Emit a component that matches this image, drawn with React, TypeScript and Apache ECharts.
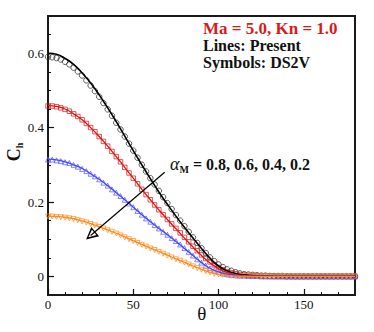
import React, { useEffect, useRef } from "react";
import * as echarts from "echarts";

// Angle grids (degrees)
const thetaLine = [0, 5, 10, 15, 20, 25, 30, 35, 40, 45, 50, 55, 60, 65, 70, 75, 80, 85, 90, 95, 100, 105, 110, 115, 120, 125, 130, 135, 140, 145, 150, 155, 160, 165, 170, 175, 180];
const thetaSym = [0, 2.5, 5, 7.5, 10, 12.5, 15, 17.5, 20, 22.5, 25, 27.5, 30, 32.5, 35, 37.5, 40, 42.5, 45, 47.5, 50, 52.5, 55, 57.5, 60, 62.5, 65, 67.5, 70, 72.5, 75, 77.5, 80, 82.5, 85, 87.5, 90, 92.5, 95, 97.5, 100, 102.5, 105, 107.5, 110, 112.5, 115, 117.5, 120, 122.5, 125, 127.5, 130, 132.5, 135, 137.5, 140, 142.5, 145, 147.5, 150, 152.5, 155, 157.5, 160, 162.5, 165, 167.5, 170, 172.5, 175, 177.5, 180];

// Lines: Present (alpha_M = 0.8, 0.6, 0.4, 0.2)
const line08 = [0.600, 0.597, 0.586, 0.570, 0.547, 0.520, 0.488, 0.453, 0.416, 0.377, 0.338, 0.300, 0.263, 0.227, 0.194, 0.162, 0.132, 0.103, 0.075, 0.049, 0.028, 0.015, 0.008, 0.004, 0.002, 0.001, 0.001, 0, 0, 0, 0, 0, 0, 0, 0, 0, 0];
const line06 = [0.460, 0.457, 0.450, 0.437, 0.421, 0.400, 0.376, 0.350, 0.322, 0.293, 0.264, 0.234, 0.206, 0.179, 0.153, 0.128, 0.103, 0.079, 0.056, 0.036, 0.021, 0.011, 0.005, 0.002, 0.001, 0, 0, 0, 0, 0, 0, 0, 0, 0, 0, 0, 0];
const line04 = [0.315, 0.313, 0.308, 0.300, 0.290, 0.276, 0.261, 0.244, 0.225, 0.206, 0.186, 0.166, 0.147, 0.129, 0.112, 0.094, 0.075, 0.056, 0.037, 0.022, 0.012, 0.006, 0.003, 0.001, 0, 0, 0, 0, 0, 0, 0, 0, 0, 0, 0, 0, 0];
const line02 = [0.162, 0.161, 0.159, 0.155, 0.149, 0.142, 0.134, 0.125, 0.116, 0.106, 0.096, 0.086, 0.076, 0.067, 0.057, 0.047, 0.038, 0.028, 0.019, 0.011, 0.006, 0.003, 0.001, 0, 0, 0, 0, 0, 0, 0, 0, 0, 0, 0, 0, 0, 0];

// Symbols: DS2V
const sym08 = [0.590, 0.589, 0.587, 0.583, 0.577, 0.570, 0.561, 0.551, 0.540, 0.527, 0.513, 0.498, 0.483, 0.466, 0.449, 0.432, 0.413, 0.395, 0.376, 0.357, 0.338, 0.319, 0.300, 0.282, 0.264, 0.247, 0.230, 0.213, 0.197, 0.181, 0.165, 0.150, 0.135, 0.120, 0.105, 0.090, 0.076, 0.063, 0.051, 0.041, 0.032, 0.025, 0.019, 0.015, 0.011, 0.008, 0.006, 0.005, 0.004, 0.003, 0.002, 0.002, 0.001, 0.001, 0.001, 0.001, 0, 0, 0, 0, 0, 0, 0, 0, 0, 0, 0, 0, 0, 0, 0, 0, 0];
const sym06 = [0.458, 0.458, 0.456, 0.453, 0.449, 0.444, 0.437, 0.430, 0.421, 0.411, 0.400, 0.389, 0.376, 0.363, 0.350, 0.336, 0.322, 0.308, 0.293, 0.278, 0.264, 0.249, 0.234, 0.220, 0.206, 0.192, 0.179, 0.166, 0.153, 0.141, 0.129, 0.117, 0.105, 0.093, 0.081, 0.069, 0.058, 0.048, 0.039, 0.031, 0.024, 0.018, 0.013, 0.010, 0.007, 0.005, 0.004, 0.003, 0.002, 0.002, 0.001, 0.001, 0.001, 0, 0, 0, 0, 0, 0, 0, 0, 0, 0, 0, 0, 0, 0, 0, 0, 0, 0, 0, 0];
const sym04 = [0.314, 0.314, 0.312, 0.310, 0.307, 0.305, 0.300, 0.295, 0.289, 0.283, 0.276, 0.269, 0.261, 0.252, 0.244, 0.234, 0.225, 0.216, 0.206, 0.196, 0.186, 0.176, 0.166, 0.156, 0.147, 0.138, 0.129, 0.120, 0.112, 0.103, 0.095, 0.086, 0.076, 0.066, 0.056, 0.046, 0.037, 0.029, 0.022, 0.016, 0.012, 0.008, 0.006, 0.004, 0.003, 0.002, 0.002, 0.001, 0.001, 0.001, 0, 0, 0, 0, 0, 0, 0, 0, 0, 0, 0, 0, 0, 0, 0, 0, 0, 0, 0, 0, 0, 0, 0];
const sym02 = [0.161, 0.161, 0.160, 0.159, 0.158, 0.156, 0.154, 0.151, 0.148, 0.145, 0.141, 0.137, 0.133, 0.129, 0.124, 0.120, 0.115, 0.110, 0.105, 0.100, 0.095, 0.090, 0.085, 0.080, 0.075, 0.071, 0.066, 0.061, 0.056, 0.051, 0.046, 0.042, 0.037, 0.032, 0.027, 0.022, 0.018, 0.014, 0.010, 0.007, 0.005, 0.004, 0.003, 0.002, 0.001, 0.001, 0.001, 0, 0, 0, 0, 0, 0, 0, 0, 0, 0, 0, 0, 0, 0, 0, 0, 0, 0, 0, 0, 0, 0, 0, 0, 0, 0];

// Axis ticks
const xMajorTicks = [0, 50, 100, 150];
const xMinorTicks = [10, 20, 30, 40, 60, 70, 80, 90, 110, 120, 130, 140, 160, 170];
const yMajorTicks = [0, 0.2, 0.4, 0.6];
const yMinorTicks = [0.05, 0.1, 0.15, 0.25, 0.3, 0.35, 0.45, 0.5, 0.55, 0.65];

// Annotation arrow (data coordinates: theta, Ch)
const arrowFrom = [68.4, 0.28];
const arrowTo = [25, 0.11];

const SERIF = "Liberation Serif";

export default function App() {
  const ref = useRef<HTMLDivElement>(null);
  useEffect(() => {
    const chart = echarts.init(ref.current!, null, { renderer: "svg" });
    const pairs = (xs: number[], ys: number[]) => xs.map((x, i) => [x, ys[i]]);
    const lineSeries = (data: number[], color: string, width: number, extra: any = {}) => ({
      type: "line",
      data: pairs(thetaLine, data),
      smooth: true,
      showSymbol: false,
      symbol: "none",
      lineStyle: { color, width },
      z: 3,
      ...extra,
    });
    const symSeries = (data: number[], color: string, symbol: string, size: number) => ({
      type: "scatter",
      data: pairs(thetaSym, data),
      symbol,
      symbolSize: size,
      itemStyle: { color: "rgba(0,0,0,0)", borderColor: color, borderWidth: 0.9 },
      z: 2,
    });
    const tickLabel = { fontFamily: SERIF, fontSize: 13, color: "#111" };
    const hiddenLine = { show: false, onZero: false };
    const option: any = {
      animation: false,
      grid: {
        left: 48,
        right: 19,
        top: 16,
        bottom: 37,
        show: true,
        borderColor: "#1a1a1a",
        borderWidth: 2,
        backgroundColor: "transparent",
        containLabel: false,
        outerBoundsMode: "none",
      },
      xAxis: [
        {
          type: "value",
          min: 0,
          max: 180,
          position: "bottom",
          axisLine: hiddenLine,
          splitLine: { show: false },
          axisTick: { show: true, inside: true, length: 6, customValues: xMajorTicks, lineStyle: { color: "#111", width: 1.2 } },
          axisLabel: { customValues: xMajorTicks, margin: 3, ...tickLabel },
        },
        {
          type: "value",
          min: 0,
          max: 180,
          position: "bottom",
          axisLine: hiddenLine,
          splitLine: { show: false },
          axisLabel: { show: false },
          axisTick: { show: true, inside: true, length: 3, customValues: xMinorTicks, lineStyle: { color: "#111", width: 1 } },
        },
      ],
      yAxis: [
        {
          type: "value",
          min: -0.05,
          max: 0.7,
          position: "left",
          axisLine: hiddenLine,
          splitLine: { show: false },
          axisTick: { show: true, inside: true, length: 6, customValues: yMajorTicks, lineStyle: { color: "#111", width: 1.2 } },
          axisLabel: { customValues: yMajorTicks, margin: 4, ...tickLabel, formatter: (v: number) => String(v) },
        },
        {
          type: "value",
          min: -0.05,
          max: 0.7,
          position: "left",
          axisLine: hiddenLine,
          splitLine: { show: false },
          axisLabel: { show: false },
          axisTick: { show: true, inside: true, length: 3, customValues: yMinorTicks, lineStyle: { color: "#111", width: 1 } },
        },
      ],
      series: [
        lineSeries(line08, "#000000", 1.6, {
          markLine: {
            silent: true,
            symbol: ["none", "path://M5,0L8.6,10L1.4,10ZM5,2.6L2.9,8.9L7.1,8.9Z"],
            symbolSize: 12,
            lineStyle: { color: "#000", width: 1.2, type: "solid" },
            label: { show: false },
            data: [[{ coord: arrowFrom }, { coord: arrowTo }]],
          },
        }),
        lineSeries(line06, "#e01515", 1.3),
        lineSeries(line04, "#4545ff", 1.3),
        lineSeries(line02, "#ff8a1a", 1.3),
        symSeries(sym08, "#222222", "circle", 5.5),
        symSeries(sym06, "#e01515", "rect", 4.5),
        symSeries(sym04, "#5555ff", "triangle", 5),
        symSeries(sym02, "#ff8a1a", "path://M0,0L10,0L5,9Z", 5),
      ],
      graphic: [
        {
          type: "text",
          x: 203,
          y: 28.5,
          style: { text: "Ma = 5.0, Kn = 1.0", fontFamily: SERIF, fontSize: 17, fontWeight: "bold", fill: "#d91a1a", verticalAlign: "middle" },
        },
        {
          type: "text",
          x: 203,
          y: 45.5,
          style: { text: "Lines: Present", fontFamily: SERIF, fontSize: 16, fontWeight: "bold", fill: "#111", verticalAlign: "middle" },
        },
        {
          type: "text",
          x: 203,
          y: 62.5,
          style: { text: "Symbols: DS2V", fontFamily: SERIF, fontSize: 16, fontWeight: "bold", fill: "#111", verticalAlign: "middle" },
        },
        {
          type: "text",
          x: 201.7,
          y: 313,
          style: { text: "θ", fontFamily: SERIF, fontSize: 19, fill: "#111", align: "center", verticalAlign: "middle" },
        },
        {
          type: "text",
          x: 170,
          y: 164,
          style: {
            text: "{a|α}{s|M}{b| = 0.8, 0.6, 0.4, 0.2}",
            verticalAlign: "middle",
            rich: {
              a: { fontFamily: SERIF, fontSize: 18, fontStyle: "italic", fill: "#111", lineHeight: 20 },
              s: { fontFamily: SERIF, fontSize: 10, fontWeight: "bold", fill: "#111", lineHeight: 11, verticalAlign: "bottom" },
              b: { fontFamily: SERIF, fontSize: 16, fontWeight: "bold", fill: "#111", lineHeight: 20 },
            },
          },
        },
        {
          type: "text",
          x: 14,
          y: 152,
          rotation: Math.PI / 2,
          style: {
            text: "{c|C}{h|h}",
            align: "center",
            verticalAlign: "middle",
            rich: {
              c: { fontFamily: SERIF, fontSize: 18, fontWeight: "bold", fill: "#111", lineHeight: 20 },
              h: { fontFamily: SERIF, fontSize: 10, fontWeight: "bold", fill: "#111", lineHeight: 11, verticalAlign: "bottom" },
            },
          },
        },
      ],
    };
    chart.setOption(option);
    return () => chart.dispose();
  }, []);
  return (
    <div
      ref={ref}
      style={{ position: "fixed", left: 0, top: 0, width: 374, height: 332, background: "#fff" }}
    />
  );
}
